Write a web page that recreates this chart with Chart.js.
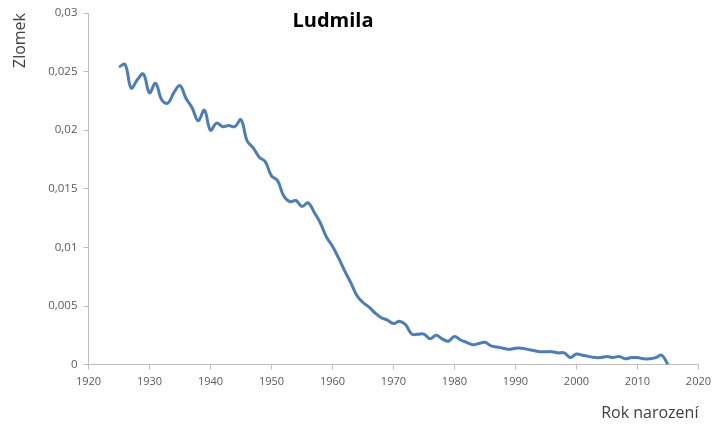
<!DOCTYPE html>
<html>
<head>
<meta charset="utf-8">
<script src="https://cdn.jsdelivr.net/npm/chart.js@4"></script>
<style>
  html, body { margin: 0; padding: 0; background: #fff; }
  #wrap { width: 717px; height: 427px; }
</style>
</head>
<body>
<div id="wrap"><canvas id="chart"></canvas></div>
<script>
const years = [
  1925, 1926, 1927, 1928, 1929, 1930, 1931, 1932, 1933, 1934,
  1935, 1936, 1937, 1938, 1939, 1940, 1941, 1942, 1943, 1944,
  1945, 1946, 1947, 1948, 1949, 1950, 1951, 1952, 1953, 1954,
  1955, 1956, 1957, 1958, 1959, 1960, 1961, 1962, 1963, 1964,
  1965, 1966, 1967, 1968, 1969, 1970, 1971, 1972, 1973, 1974,
  1975, 1976, 1977, 1978, 1979, 1980, 1981, 1982, 1983, 1984,
  1985, 1986, 1987, 1988, 1989, 1990, 1991, 1992, 1993, 1994,
  1995, 1996, 1997, 1998, 1999, 2000, 2001, 2002, 2003, 2004,
  2005, 2006, 2007, 2008, 2009, 2010, 2011, 2012, 2013, 2014,
  2015
];
const ludmila = [
  0.0254, 0.0256, 0.0236, 0.0243, 0.0248, 0.0232, 0.0240, 0.0226, 0.0223, 0.0232,
  0.0238, 0.0227, 0.0219, 0.0208, 0.0217, 0.0200, 0.0206, 0.0203, 0.0204, 0.0203,
  0.0209, 0.0191, 0.0185, 0.0177, 0.0173, 0.0161, 0.0157, 0.0144, 0.0139, 0.0140,
  0.0135, 0.0138, 0.0130, 0.0121, 0.0109, 0.0101, 0.0091, 0.0080, 0.0070, 0.0059,
  0.0053, 0.0049, 0.0044, 0.0040, 0.0038, 0.0035, 0.0037, 0.0034, 0.0026, 0.0026,
  0.0026, 0.0022, 0.0025, 0.0022, 0.0020, 0.0024, 0.0021, 0.0019, 0.0017, 0.0018,
  0.0019, 0.0016, 0.0015, 0.0014, 0.0013, 0.0014, 0.0014, 0.0013, 0.0012, 0.0011,
  0.0011, 0.0011, 0.0010, 0.0010, 0.0006, 0.0009, 0.0008, 0.0007, 0.0006, 0.0006,
  0.0007, 0.0006, 0.0007, 0.0005, 0.0006, 0.0006, 0.0005, 0.0005, 0.0006, 0.0008,
  0.0000
];
const chartTitle = 'Ludmila';
const yTitle = 'Zlomek';
const xTitle = 'Rok narození';

const font = "'Open Sans', 'Liberation Sans', sans-serif";
const axisGrey = '#bfbfbf';
const labelGrey = '#595959';

// title sits inside the plot, left of centre, like the Excel original
const titlePlugin = {
  id: 'innerTitle',
  afterDraw(chart) {
    const { ctx } = chart;
    ctx.save();
    ctx.font = `bold 20px ${font}`;
    ctx.fillStyle = '#000';
    ctx.textAlign = 'center';
    ctx.textBaseline = 'middle';
    ctx.fillText(chartTitle, 333, 21);
    ctx.restore();
  },
};

new Chart(document.getElementById('chart').getContext('2d'), {
  type: 'line',
  data: {
    datasets: [{
      data: years.map((y, i) => ({ x: y, y: ludmila[i] })),
      borderColor: '#4a7ebb',
      borderWidth: 3,
      pointRadius: 0,
      tension: 0.4,
      fill: false,
    }],
  },
  options: {
    responsive: true,
    maintainAspectRatio: false,
    animation: false,
    layout: { padding: { left: 11, right: 12, top: 13, bottom: 4 } },
    plugins: { legend: { display: false }, tooltip: { enabled: false } },
    scales: {
      x: {
        type: 'linear',
        min: 1920,
        max: 2020,
        ticks: { stepSize: 10, color: labelGrey, font: { family: font, size: 11 }, padding: 6,
          callback: (v) => String(v) },
        grid: { display: true, drawOnChartArea: false, drawTicks: true, tickLength: 5, color: axisGrey },
        border: { color: axisGrey },
        title: { display: true, text: xTitle, align: 'end', color: '#404040',
          font: { family: font, size: 16 }, padding: { top: 9, bottom: 0 } },
      },
      y: {
        min: 0,
        max: 0.03,
        ticks: { stepSize: 0.005, color: labelGrey, font: { family: font, size: 11.5 }, padding: 6,
          callback: (v) => String(Math.round(v * 1000) / 1000).replace('.', ',') },
        grid: { display: true, drawOnChartArea: false, drawTicks: true, tickLength: 5, color: axisGrey },
        border: { color: axisGrey },
        title: { display: true, text: yTitle, align: 'end', color: '#404040',
          font: { family: font, size: 16 }, padding: { top: 0, bottom: 12 } },
      },
    },
  },
  plugins: [titlePlugin],
});
</script>
</body>
</html>
